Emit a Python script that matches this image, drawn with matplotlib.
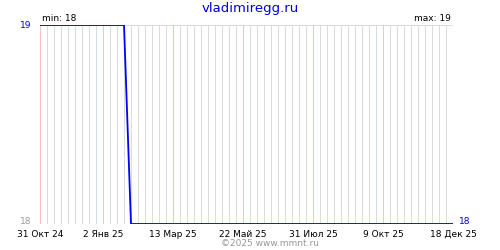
import matplotlib
matplotlib.use("Agg")
import matplotlib.pyplot as plt
from datetime import datetime, timedelta

# step points of the series
dates = ["2024-10-31", "2025-01-23", "2025-01-30", "2025-12-18"]
values = [19, 19, 18, 18]

tick_dates = ["2024-10-31", "2025-01-02", "2025-03-13", "2025-05-22",
              "2025-07-31", "2025-10-09", "2025-12-18"]
tick_labels = ["31 Окт 24", "2 Янв 25", "13 Мар 25", "22 Май 25",
               "31 Июл 25", "9 Окт 25", "18 Дек 25"]

x = [datetime.strptime(d, "%Y-%m-%d") for d in dates]
tx = [datetime.strptime(d, "%Y-%m-%d") for d in tick_dates]
start, end = tx[0], tx[-1]

fig = plt.figure(figsize=(5, 2.5), dpi=100)
ax = fig.add_axes([0.08, 0.104, 0.826, 0.796])

# weekly grey grid, red at labelled dates
d = start
while d <= end:
    if d not in tx:
        ax.axvline(d, color="#dcdcdc", lw=0.72, zorder=1, snap=True)
    d += timedelta(days=7)
for t in tx:
    ax.axvline(t, color="#ffc0c0", lw=0.72, zorder=2, snap=True)
ax.axhline(19, color="#dcdcdc", lw=0.72, zorder=1, snap=True)

ax.plot(x, values, color="#0000ff", lw=1.3, zorder=3, solid_capstyle="butt")

ax.set_xlim(start, end)
ax.set_ylim(18, 19)
for s in ax.spines.values():
    s.set_visible(False)
ax.set_yticks([])
ax.set_xticks(tx)
ax.set_xticklabels(tick_labels, fontsize=6.5)
ax.tick_params(axis="x", length=0, pad=4)

tr = ax.transAxes
ax.text(-0.02, 1.0, "19", color="#0000cc", fontsize=6.5, ha="right", va="center", transform=tr)
ax.text(-0.02, 0.015, "18", color="#999999", fontsize=6.5, ha="right", va="center", transform=tr)
ax.text(1.015, 0.015, "18", color="#0000cc", fontsize=6.5, ha="left", va="center", transform=tr)
ax.text(0.005, 1.01, "min: 18", color="black", fontsize=6.5, ha="left", va="bottom", transform=tr)
ax.text(0.995, 1.01, "max: 19", color="black", fontsize=6.5, ha="right", va="bottom", transform=tr)

fig.text(0.5, 0.965, "vladimiregg.ru", color="#0000ee", fontsize=9.5, ha="center", va="center")
fig.text(0.54, 0.028, "©2025 www.mmnt.ru", color="#999999", fontsize=6.5, ha="center", va="center")

fig.savefig("out.png", dpi=100)
